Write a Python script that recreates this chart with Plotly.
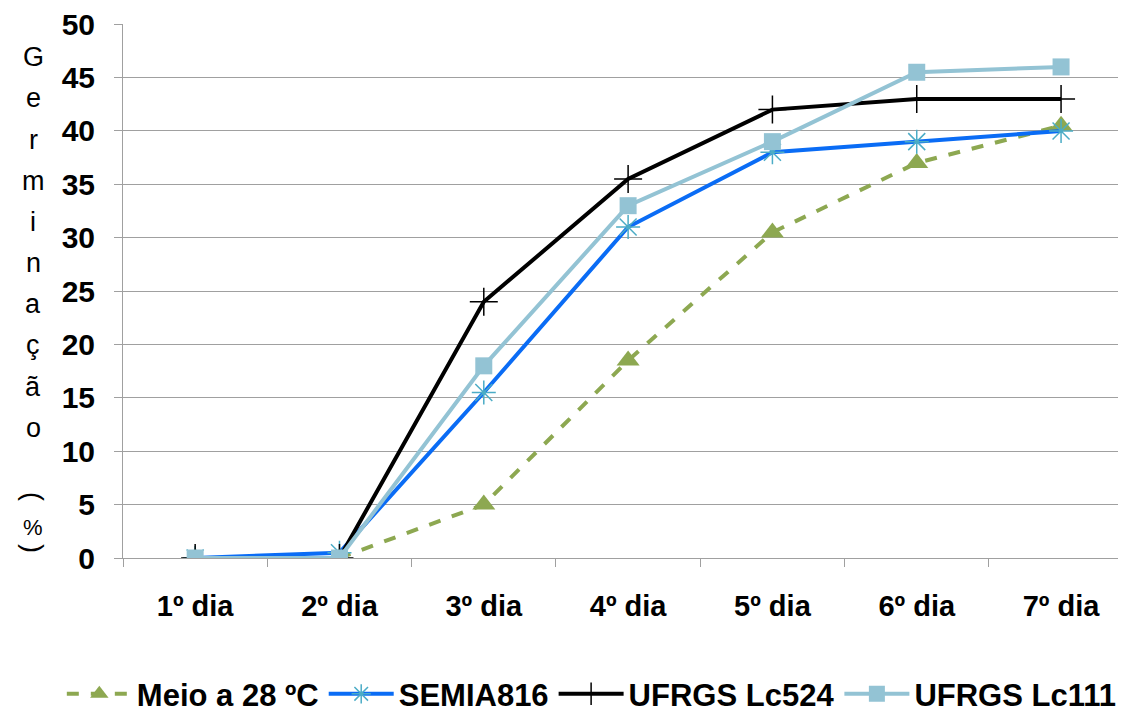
import plotly.graph_objects as go

categories = ["1º dia", "2º dia", "3º dia", "4º dia", "5º dia", "6º dia", "7º dia"]
meio_28 = [0, 0, 5, 18.5, 30.5, 37, 40.5]
semia816 = [0, 0.5, 15.5, 31, 38, 39, 40]
ufrgs_lc524 = [0, 0, 24, 35.5, 42, 43, 43]
ufrgs_lc111 = [0, 0, 18, 33, 39, 45.5, 46]
y_ticks = [0, 5, 10, 15, 20, 25, 30, 35, 40, 45, 50]
title_letters = ["G", "e", "r", "m", "i", "n", "a", "ç", "ã", "o"]

FONT = "Liberation Sans, Arial, sans-serif"

fig = go.Figure()
fig.add_trace(go.Scatter(
    x=categories, y=meio_28, name="Meio a 28 ºC", mode="lines+markers",
    line=dict(color="#8DA851", width=4, dash="dash"),
    marker=dict(symbol="triangle-up", size=20, color="#8DA851"),
))
fig.add_trace(go.Scatter(
    x=categories, y=semia816, name="SEMIA816", mode="lines+markers",
    line=dict(color="#0A6CF5", width=4),
    marker=dict(symbol="asterisk-open", size=20, color="#4BACC6",
                line=dict(color="#4BACC6", width=1.5)),
))
fig.add_trace(go.Scatter(
    x=categories, y=ufrgs_lc524, name="UFRGS Lc524", mode="lines+markers",
    line=dict(color="#000000", width=4),
    marker=dict(symbol="cross-thin-open", size=20, color="#000000",
                line=dict(color="#000000", width=1.5)),
))
fig.add_trace(go.Scatter(
    x=categories, y=ufrgs_lc111, name="UFRGS Lc111", mode="lines+markers",
    line=dict(color="#93C3D4", width=4),
    marker=dict(symbol="square", size=17, color="#93C3D4"),
))

# vertical stacked axis title (positions in window pixels of the reference)
def ypix_to_val(p):
    return (558 - p) / 10.68

TX = (33 - 123) / 1003
for i, ch in enumerate(title_letters):
    fig.add_annotation(x=TX, xref="x domain", y=ypix_to_val(57 + 41.2 * i), yref="y",
                       text=ch, showarrow=False, font=dict(size=27, family=FONT, color="black"),
                       xanchor="center", yanchor="middle")

fig.add_annotation(x=TX, xref="x domain", y=ypix_to_val(496), yref="y",
                   text="(", textangle=90, showarrow=False,
                   font=dict(size=27, family=FONT, color="black"), xanchor="center", yanchor="middle")
fig.add_annotation(x=TX, xref="x domain", y=ypix_to_val(527), yref="y",
                   text="%", showarrow=False,
                   font=dict(size=22, family=FONT, color="black"), xanchor="center", yanchor="middle")
fig.add_annotation(x=TX, xref="x domain", y=ypix_to_val(548), yref="y",
                   text=")", textangle=90, showarrow=False,
                   font=dict(size=27, family=FONT, color="black"), xanchor="center", yanchor="middle")

fig.update_layout(
    width=1126, height=711,
    margin=dict(l=115, r=8, t=16, b=161, autoexpand=False),
    paper_bgcolor="white", plot_bgcolor="white",
    font=dict(family=FONT, size=29, color="black"),
    showlegend=True,
    legend=dict(orientation="h", x=-0.061, xanchor="left", y=-0.255, yanchor="middle",
                font=dict(size=31, family=FONT, color="black", weight="bold"),
                itemwidth=65, tracegroupgap=0, bgcolor="rgba(0,0,0,0)"),
)
fig.update_xaxes(
    type="category", range=[-0.5, 6.45], automargin=False,
    showgrid=False, zeroline=False,
    showline=True, linecolor="#A0A0A0", linewidth=1,
    ticks="outside", tickson="boundaries", ticklen=8, tickcolor="#A0A0A0",
    tickfont=dict(size=29, family=FONT, color="black", weight="bold"),
    ticklabelstandoff=22,
)
fig.update_yaxes(
    range=[0, 50.02], tickvals=y_ticks, ticktext=[str(v) for v in y_ticks], automargin=False,
    ticklabeloverflow="allow",
    showgrid=True, gridcolor="#A0A0A0", gridwidth=1, zeroline=False,
    showline=True, linecolor="#A0A0A0", linewidth=1,
    ticks="outside", ticklen=8, tickcolor="#A0A0A0",
    tickfont=dict(size=30, family=FONT, color="black", weight="bold"),
    ticklabelstandoff=13,
)

fig.write_html("out.html")
